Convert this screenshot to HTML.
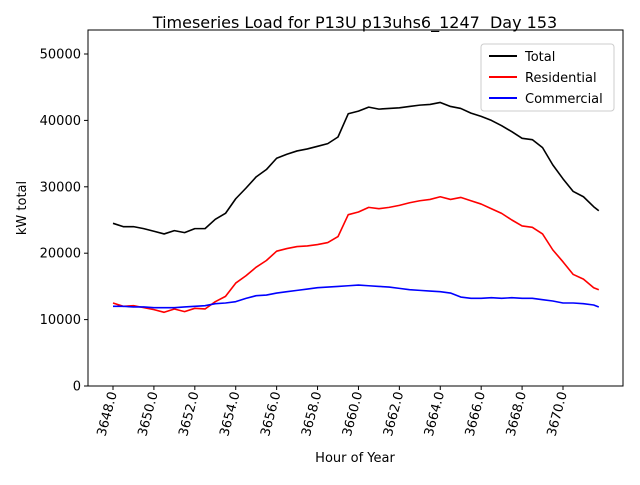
<!DOCTYPE html>
<html><head><meta charset="utf-8"><style>
body{margin:0;background:#fff}
svg text{font-family:"DejaVu Sans","Liberation Sans",sans-serif;fill:#000}
</style></head><body>
<svg id="chart" width="640" height="480">
<rect x="0" y="0" width="640" height="480" fill="#fff"/>
<text x="355" y="28" font-size="16" text-anchor="middle">Timeseries Load for P13U p13uhs6_1247&#160; Day 153</text>
<g id="plot"></g>
<rect x="88" y="30" width="535" height="356" fill="none" stroke="#000" stroke-width="1"/>
<text x="355" y="462" font-size="13" text-anchor="middle">Hour of Year</text>
<text transform="translate(26,208) rotate(-90)" font-size="13" text-anchor="middle">kW total</text>
<g>
<rect x="481" y="44" width="133" height="67" rx="3" fill="#fff" stroke="#ccc"/>
<line x1="489" y1="56" x2="517" y2="56" stroke="#000" stroke-width="2"/>
<text x="525" y="61" font-size="13">Total</text>
<line x1="489" y1="77" x2="517" y2="77" stroke="red" stroke-width="2"/>
<text x="525" y="82" font-size="13">Residential</text>
<line x1="489" y1="98" x2="517" y2="98" stroke="blue" stroke-width="2"/>
<text x="525" y="103" font-size="13">Commercial</text>
</g>
</svg>
<script>
const hours=[3648,3648.5,3649,3649.5,3650,3650.5,3651,3651.5,3652,3652.5,3653,3653.5,3654,3654.5,3655,3655.5,3656,3656.5,3657,3657.5,3658,3658.5,3659,3659.5,3660,3660.5,3661,3661.5,3662,3662.5,3663,3663.5,3664,3664.5,3665,3665.5,3666,3666.5,3667,3667.5,3668,3668.5,3669,3669.5,3670,3670.5,3671,3671.5,3671.75];
const total=[24500,24000,24000,23700,23300,22900,23400,23100,23700,23700,25100,26000,28200,29800,31500,32600,34300,34900,35400,35700,36100,36500,37500,41000,41400,42000,41700,41800,41900,42100,42300,42400,42700,42100,41800,41100,40600,40000,39200,38300,37300,37100,35900,33300,31200,29300,28500,27000,26400];
const residential=[12500,12000,12100,11800,11500,11100,11600,11200,11700,11600,12700,13500,15500,16600,17900,18900,20300,20700,21000,21100,21300,21600,22500,25800,26200,26900,26700,26900,27200,27600,27900,28100,28500,28100,28400,27900,27400,26700,26000,25000,24100,23900,22900,20500,18700,16800,16100,14800,14500];
const commercial=[12000,12000,11900,11900,11800,11800,11800,11900,12000,12100,12400,12500,12700,13200,13600,13700,14000,14200,14400,14600,14800,14900,15000,15100,15200,15100,15000,14900,14700,14500,14400,14300,14200,14000,13400,13200,13200,13300,13200,13300,13200,13200,13000,12800,12500,12500,12400,12200,11900];
const xTicks=[3648,3650,3652,3654,3656,3658,3660,3662,3664,3666,3668,3670];
const yTicks=[0,10000,20000,30000,40000,50000];
const NS="http://www.w3.org/2000/svg";
const sx=h=>113+(h-3648)*20.4545;
const sy=v=>386-v*0.00664;
const g=document.getElementById('plot');
function mk(t,a){const e=document.createElementNS(NS,t);for(const k in a)e.setAttribute(k,a[k]);g.appendChild(e);return e;}
yTicks.forEach(v=>{
  const l=mk('line',{x1:84,x2:88,y1:sy(v),y2:sy(v),stroke:'#000'});
  
  
  const t=mk('text',{x:81,y:sy(v)+4.5,'font-size':13,'text-anchor':'end'});
  t.textContent=v;
  
  
});
xTicks.forEach(h=>{
  const x=sx(h);
  const l=mk('line',{x1:x,x2:x,y1:386,y2:390,stroke:'#000'});
  
  
  const t=mk('text',{transform:`translate(${x+4},393) rotate(-75)`,'font-size':13,'text-anchor':'end'});
  t.textContent=h.toFixed(1);
  
  
});
[[total,'#000','total-line'],[residential,'red','residential-line'],[commercial,'blue','commercial-line']].forEach(([arr,c,n])=>{
  const p=mk('polyline',{points:arr.map((v,i)=>sx(hours[i])+','+sy(v)).join(' '),fill:'none',stroke:c,'stroke-width':1.6,'stroke-linejoin':'round'});
  
  
});
</script>
</body></html>
